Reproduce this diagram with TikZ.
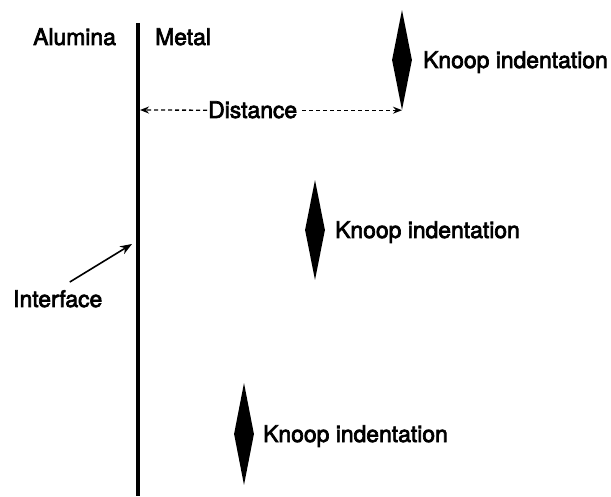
\documentclass[tikz,border=0pt]{standalone}
\usepackage{fontspec}
\setmainfont{TeX Gyre Heros}
\newfontfamily\lblfont{TeX Gyre Heros}[FakeBold=3]
\usetikzlibrary{shapes.geometric,arrows.meta}
\begin{document}
\begin{tikzpicture}[x=1pt,y=1pt,
  lbl/.style={anchor=base west,inner sep=0pt,font=\lblfont\fontsize{22.9}{27}\selectfont},
  indent/.style={diamond,fill=black,draw=none,inner sep=0pt,minimum width=20pt,minimum height=100pt},
  dist/.style={dash pattern=on 4pt off 3pt,line width=1.3pt,-{Stealth[length=9pt,width=7pt]}},
  ptr/.style={line width=1.6pt,-{Stealth[length=12pt,width=9pt]}}]
\useasboundingbox (0,0) rectangle (611,496);

% interface line between the two materials
\coordinate (ltop) at (137.5,473);
\coordinate (lbot) at (137.5,0);
\draw[line width=4pt] (ltop) -- (lbot);

% material labels
\node[lbl] (alumina) at (33,451) {Alumina};
\node[lbl] (metal) at (155,451) {Metal};

% Knoop indentations
\node[indent] (k1) at (402,436) {};
\node[indent] (k2) at (315,266) {};
\node[indent,minimum height=102pt] (k3) at (244,62) {};
\node[lbl] (t1) at (423,428) {Knoop indentation};
\node[lbl] (t2) at (335,258) {Knoop indentation};
\node[lbl] (t3) at (263,54) {Knoop indentation};

% distance from the interface to the first indentation
\node[lbl] (dist) at (208,378) {Distance};
\coordinate (dtip) at (140,386);
\draw[dist] ([xshift=-1pt]dist.west |- k1.south) -- (dtip);
\draw[dist] ([xshift=5pt]dist.east |- k1.south) -- (k1.south);

% interface pointer
\node[lbl] (iface) at (13,189) {Interface};
\coordinate (itip) at (132,252);
\draw[ptr] ([shift={(12pt,8pt)}]iface.north) -- (itip);
\end{tikzpicture}
\end{document}
